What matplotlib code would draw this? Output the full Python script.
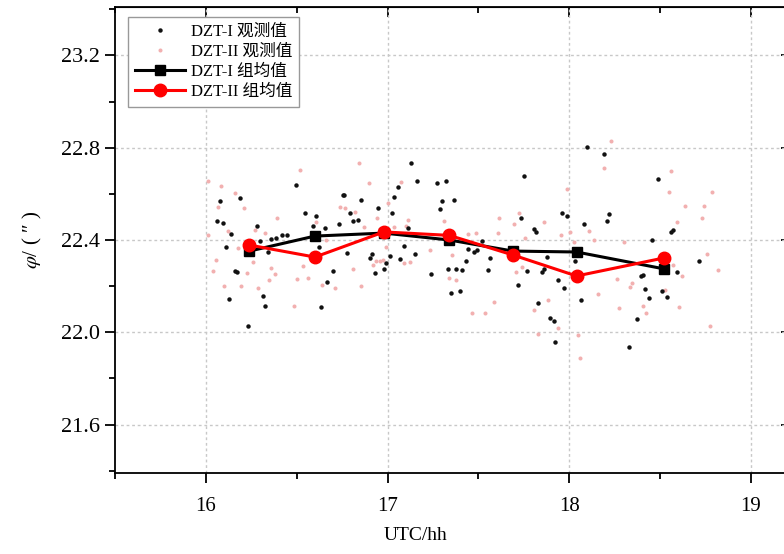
import matplotlib
matplotlib.use("Agg")
import matplotlib.pyplot as plt
from matplotlib.ticker import MultipleLocator

plt.rcParams['font.family'] = ['Liberation Serif', 'Noto Sans CJK SC', 'DejaVu Sans']
plt.rcParams['mathtext.fontset'] = 'stix'

# DZT-I observations (black dots)
obs1_x = [16.498, 16.187, 16.077, 16.060, 16.095, 16.141, 16.280, 16.113, 16.159, 16.170,
          16.126, 16.313, 16.326, 16.232, 16.297, 16.361, 16.388, 16.419, 16.449, 16.544,
          16.608, 16.592, 16.654, 16.621, 16.699, 16.668, 16.635, 16.754, 16.731, 16.342,
          17.130, 17.163, 17.271, 17.319, 16.758, 16.852, 17.057, 17.038, 16.949, 17.024,
          16.791, 16.810, 16.837, 17.286, 17.300, 17.364, 17.111, 17.090, 17.149, 16.777,
          16.916, 16.901, 17.011, 17.070, 16.993, 16.978, 16.930, 17.240, 17.332, 17.377,
          17.410, 17.350, 17.396, 17.429, 17.441, 17.473, 17.491, 17.521,
          18.097, 18.189, 17.753, 17.958, 17.987, 18.220, 18.205, 18.079, 17.734, 17.804,
          17.817, 17.566, 17.551, 17.767, 17.848, 17.859, 17.877, 18.031, 17.940, 17.969,
          17.720, 18.064, 17.830, 17.896, 17.914, 17.923, 18.326,
          18.487, 18.559, 18.568, 18.454, 18.711, 18.590, 18.403, 18.394, 18.418, 18.436,
          18.509, 18.540, 18.370]
obs1_y = [22.638, 22.580, 22.569, 22.482, 22.472, 22.426, 22.462, 22.368, 22.266, 22.263,
          22.145, 22.158, 22.112, 22.029, 22.397, 22.404, 22.407, 22.420, 22.420, 22.515,
          22.505, 22.462, 22.451, 22.369, 22.267, 22.220, 22.109, 22.595, 22.468, 22.349,
          22.732, 22.656, 22.647, 22.656, 22.595, 22.575, 22.630, 22.588, 22.540, 22.515,
          22.517, 22.484, 22.488, 22.534, 22.569, 22.575, 22.451, 22.374, 22.341, 22.344,
          22.341, 22.321, 22.331, 22.319, 22.301, 22.273, 22.259, 22.253, 22.273, 22.275,
          22.269, 22.172, 22.179, 22.307, 22.360, 22.349, 22.355, 22.396,
          22.801, 22.771, 22.678, 22.515, 22.504, 22.512, 22.484, 22.469, 22.494, 22.446,
          22.436, 22.321, 22.269, 22.267, 22.260, 22.275, 22.328, 22.311, 22.228, 22.191,
          22.205, 22.142, 22.126, 22.064, 22.050, 21.960, 21.937,
          22.664, 22.436, 22.443, 22.401, 22.307, 22.260, 22.249, 22.246, 22.188, 22.148,
          22.179, 22.152, 22.057]

# DZT-II observations (pink dots)
obs2_x = [16.516, 16.086, 16.163, 16.210, 16.068, 16.013, 16.394, 16.123, 16.013, 16.269,
          16.324, 16.177, 16.057, 16.040, 16.229, 16.260, 16.361, 16.379, 16.346, 16.101,
          16.196, 16.288, 16.535, 16.504, 16.562, 16.485, 16.639, 16.709, 16.736, 16.663,
          16.608,
          16.842, 16.897, 17.073, 17.002, 16.941, 17.111, 16.868, 17.038, 17.103, 17.308,
          17.484, 17.441, 17.231, 17.093, 16.993, 16.934, 16.956, 16.974, 16.809, 16.919,
          17.125, 16.855, 17.356, 17.337, 17.374, 17.466, 17.538, 16.764, 16.819,
          18.232, 18.189, 17.987, 17.725, 17.615, 17.694, 17.863, 17.606, 17.954, 18.005,
          18.110, 17.756, 18.024, 18.137, 18.302, 17.707, 17.738, 18.265, 18.335, 18.156,
          17.881, 17.808, 17.584, 18.275, 17.830, 18.046, 17.940, 18.060,
          18.559, 18.546, 18.787, 18.637, 18.743, 18.729, 18.590, 18.760, 18.821, 18.622,
          18.571, 18.344, 18.527, 18.403, 18.421, 18.604, 18.773]
obs2_y = [22.703, 22.635, 22.602, 22.540, 22.544, 22.656, 22.496, 22.437, 22.422, 22.443,
          22.429, 22.367, 22.314, 22.266, 22.256, 22.304, 22.278, 22.253, 22.227, 22.201,
          22.201, 22.191, 22.289, 22.231, 22.234, 22.116, 22.203, 22.194, 22.544, 22.400,
          22.479,
          22.732, 22.646, 22.653, 22.559, 22.494, 22.486, 22.458, 22.458, 22.462, 22.482,
          22.429, 22.425, 22.355, 22.302, 22.371, 22.309, 22.309, 22.314, 22.275, 22.292,
          22.304, 22.199, 22.333, 22.237, 22.228, 22.084, 22.083, 22.537, 22.523,
          22.830, 22.710, 22.621, 22.519, 22.494, 22.468, 22.479, 22.429, 22.422, 22.433,
          22.439, 22.410, 22.393, 22.400, 22.390, 22.263, 22.281, 22.231, 22.197, 22.165,
          22.141, 22.098, 22.131, 22.104, 21.993, 21.989, 22.017, 21.888,
          22.698, 22.609, 22.606, 22.547, 22.549, 22.494, 22.479, 22.339, 22.270, 22.246,
          22.292, 22.214, 22.185, 22.116, 22.083, 22.109, 22.029]

# group means
grp_x = [16.24, 16.60, 16.98, 17.34, 17.69, 18.04, 18.52]
mean1_y = [22.352, 22.417, 22.430, 22.400, 22.352, 22.348, 22.275]
mean2_y = [22.378, 22.326, 22.435, 22.420, 22.335, 22.244, 22.322]

fig = plt.figure(figsize=(7.84, 5.54), dpi=100)
# right spine falls just outside the picture, as in the cropped original
ax = fig.add_axes([115 / 784, 1 - 473 / 554, 676 / 784, 466 / 554])

ax.plot(obs1_x, obs1_y, 'o', color='#111111', ms=3.2, mew=0, label='DZT-I 观测值', zorder=3)
ax.plot(obs2_x, obs2_y, 'o', color='#f2b0b0', ms=2.9, mew=0, label='DZT-II 观测值', zorder=2)
ax.plot(grp_x, mean1_y, '-s', color='black', lw=2.2, ms=7, label='DZT-I 组均值', zorder=4)
ax.plot(grp_x, mean2_y, '-o', color='#ff0000', lw=2.2, ms=9, label='DZT-II 组均值', zorder=5)

ax.set_xlim(15.5, 19.22)
ax.set_ylim(21.39, 23.41)
ax.xaxis.set_major_locator(MultipleLocator(1))
ax.xaxis.set_minor_locator(MultipleLocator(0.5))
ax.yaxis.set_major_locator(MultipleLocator(0.4))
ax.yaxis.set_minor_locator(MultipleLocator(0.2))
ax.yaxis.set_major_formatter(plt.FormatStrFormatter('%.1f'))

ax.grid(True, which='major', color='#c8c8c8', linestyle=(0, (2, 2)), lw=1.0)
ax.set_axisbelow(True)

for s in ax.spines.values():
    s.set_linewidth(1.3)
ax.spines['right'].set_visible(False)
ax.tick_params(which='both', direction='out', width=1.3)
ax.tick_params(which='major', length=7)
ax.tick_params(which='minor', length=4)
ax.tick_params(axis='y', pad=4, labelsize=16)
ax.tick_params(axis='x', pad=10, labelsize=15)
# top / right ticks point inward
sec_x = ax.secondary_xaxis('top')
sec_x.xaxis.set_major_locator(MultipleLocator(1))
sec_x.xaxis.set_minor_locator(MultipleLocator(0.5))
sec_x.tick_params(which='both', direction='in', width=1.3, labeltop=False)
sec_x.tick_params(which='major', length=7)
sec_x.tick_params(which='minor', length=4)
sec_y = ax.secondary_yaxis('right')
sec_y.spines['right'].set_visible(False)
sec_y.yaxis.set_major_locator(MultipleLocator(0.4))
sec_y.yaxis.set_minor_locator(MultipleLocator(0.2))
sec_y.tick_params(which='both', direction='in', width=1.3, labelright=False)
sec_y.tick_params(which='major', length=7)
sec_y.tick_params(which='minor', length=4)

ax.set_xlabel('UTC/hh', fontsize=14)
ax.xaxis.set_label_coords(0.444, -0.115)
ax.set_ylabel(r'$\varphi$/ ( ″ )', fontsize=15)
ax.yaxis.set_label_coords(-0.105, 0.5)

leg = ax.legend(loc='upper left', bbox_to_anchor=(128 / 784, 1 - 17 / 554),
                bbox_transform=fig.transFigure, borderaxespad=0, fontsize=12,
                handlelength=3.0, handletextpad=0.4, labelspacing=0.25,
                fancybox=False, framealpha=1, edgecolor='#999999', markerscale=1)
leg.get_frame().set_linewidth(1.0)

fig.savefig('out.png', dpi=100)
